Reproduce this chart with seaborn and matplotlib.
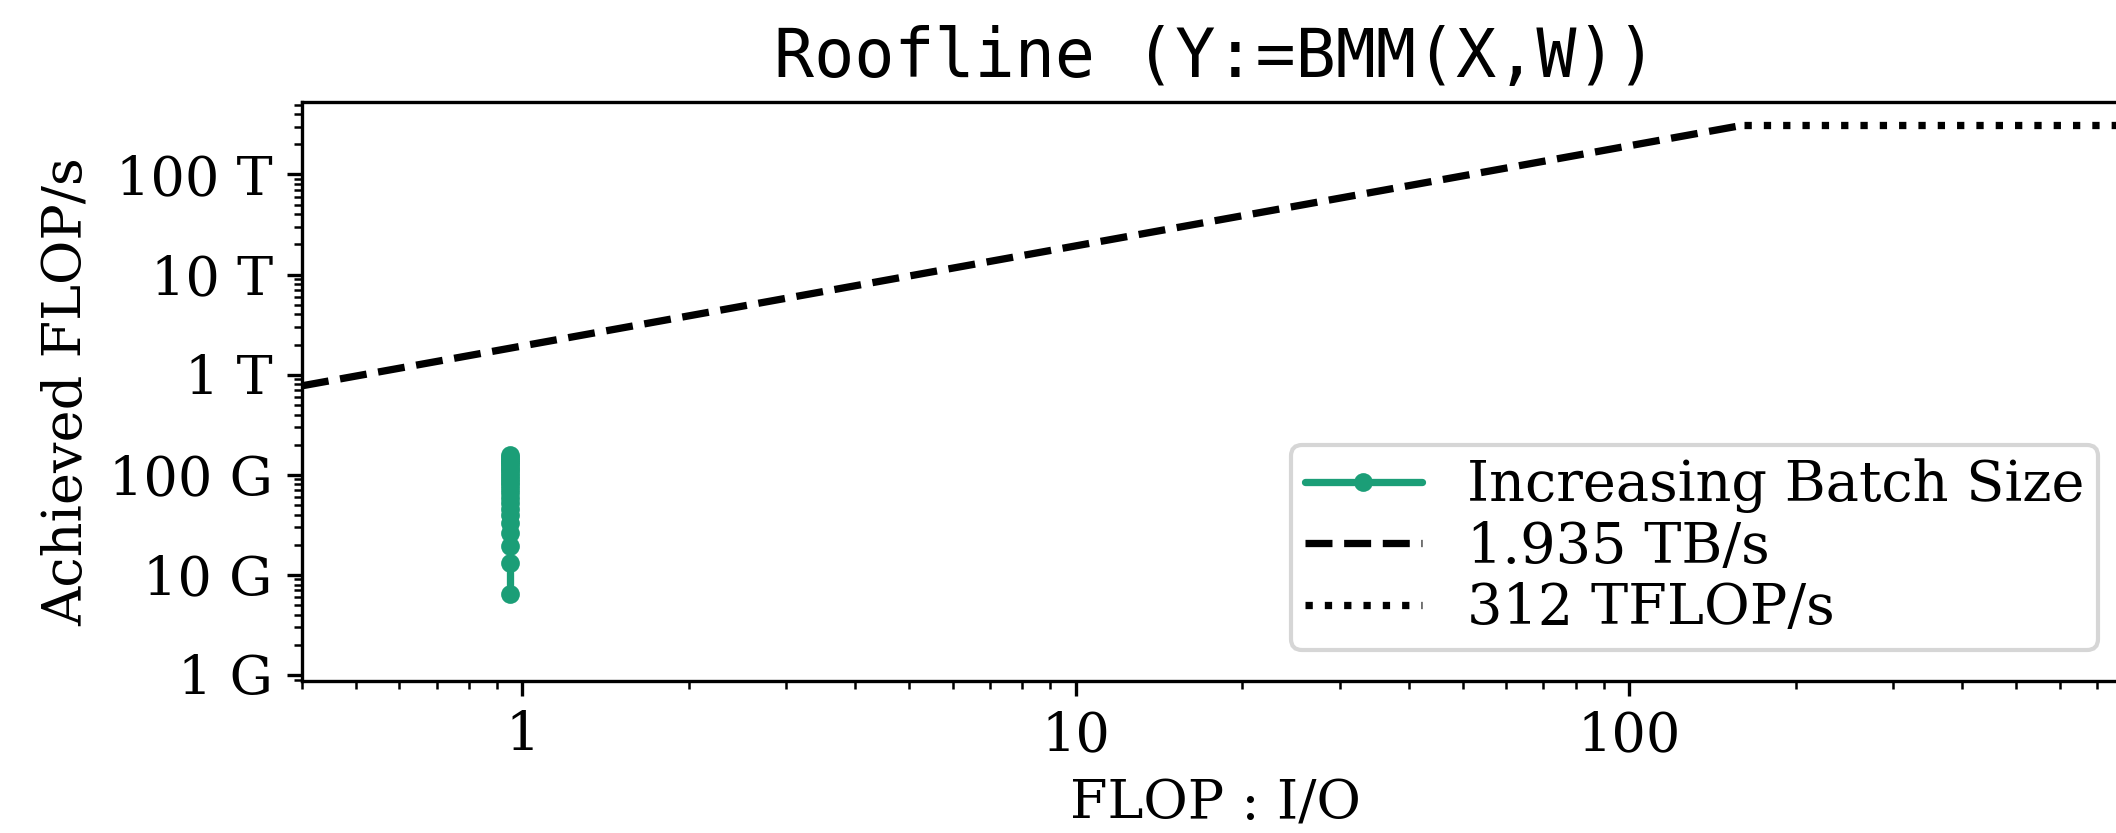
"""Roofline plot for a batched matmul sweep."""

import matplotlib

matplotlib.use("Agg")
import matplotlib.pyplot as plt
import matplotlib.ticker as mticker
import numpy as np
import seaborn as sns

# measured points (FLOP:I/O stays ~constant, throughput grows with batch size)
intensity = [0.95] * 24
achieved_gflops = [
    6.5, 13.1, 19.6, 26.1, 32.6, 39.2, 45.7, 52.2, 58.8, 65.3, 71.8, 78.4,
    84.9, 91.4, 98.0, 104.5, 111.0, 117.5, 124.0, 130.6, 137.0, 143.7, 150.0, 156.7,
]

# hardware ceilings
bandwidth_tbs = 1.935
peak_tflops = 312

x_lim = (0.4, 800)
y_lim = (8.7e8, 5.3e14)

sns.set_style("ticks")
plt.rcParams["font.family"] = ["DejaVu Serif"]
for key in ("text.color", "axes.labelcolor", "axes.edgecolor", "xtick.color", "ytick.color"):
    plt.rcParams[key] = "black"
plt.rcParams["xtick.direction"] = "out"
plt.rcParams["ytick.direction"] = "out"

green = sns.color_palette("Dark2")[0]

fig = plt.figure(figsize=(2116 / 300, 833 / 300), dpi=300)
ax = fig.add_axes([302 / 2116, 152 / 833, 1827 / 2116, 579 / 833])

sns.lineplot(
    x=intensity,
    y=np.array(achieved_gflops) * 1e9,
    estimator=None,
    sort=False,
    marker="o",
    markersize=4.5,
    markeredgewidth=0,
    linewidth=1.75,
    color=green,
    label="Increasing Batch Size",
    ax=ax,
)

ridge = peak_tflops / bandwidth_tbs
mem_x = np.array([x_lim[0], ridge])
cmp_x = np.array([ridge, x_lim[1]])
sns.lineplot(
    x=mem_x, y=mem_x * bandwidth_tbs * 1e12, color="black", linestyle="--",
    linewidth=1.75, label=f"{bandwidth_tbs} TB/s", ax=ax,
)
sns.lineplot(
    x=cmp_x, y=[peak_tflops * 1e12] * 2, color="black", linestyle=":",
    linewidth=1.75, label=f"{peak_tflops} TFLOP/s", ax=ax,
)

ax.set_xscale("log")
ax.set_yscale("log")
ax.set_xlim(*x_lim)
ax.set_ylim(*y_lim)
ax.yaxis.set_major_locator(mticker.LogLocator(base=10, numticks=20))
ax.yaxis.set_minor_locator(mticker.LogLocator(base=10, subs=np.arange(2, 10), numticks=20))
ax.yaxis.set_major_formatter(mticker.EngFormatter(unit="", sep=" "))
ax.xaxis.set_major_formatter(mticker.FormatStrFormatter("%g"))
ax.tick_params(axis="both", which="major", labelsize=13)

ax.set_xlabel("FLOP : I/O", fontsize=13)
ax.set_ylabel("Achieved FLOP/s", fontsize=13)
ax.set_title("Roofline (Y:=BMM(X,W))", fontsize=16, family="DejaVu Sans Mono")

ax.legend(
    loc="lower right",
    bbox_to_anchor=(2098 / 2116, 183 / 833),
    bbox_transform=fig.transFigure,
    borderaxespad=0,
    borderpad=0.25,
    labelspacing=0.12,
    handlelength=2.1,
    fontsize=13.4,
    frameon=True,
)

fig.savefig("out.png", dpi=300)
plt.close(fig)
